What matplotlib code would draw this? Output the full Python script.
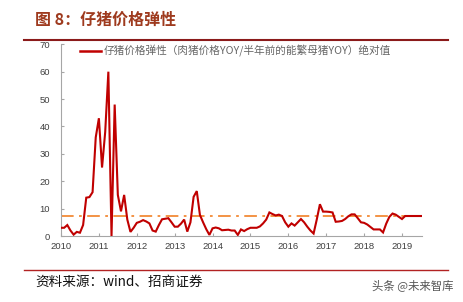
import matplotlib
matplotlib.use("Agg")
import matplotlib.pyplot as plt
import numpy as np
from matplotlib.lines import Line2D

plt.rcParams['font.family'] = ['Liberation Sans', 'Noto Sans CJK SC', 'DejaVu Sans']

# Monthly values, Jan 2010 .. Jul 2019
v2010 = [3, 3, 4, 2, 0.5, 1.5, 1.2, 4, 14, 14.2, 16, 36]
v2011 = [43, 25, 38, 60, 0, 48, 15, 9, 15, 6, 1.5, 3]
v2012 = [4.8, 5.2, 5.8, 5.3, 4.6, 2.0, 1.6, 4.0, 6.1, 6.3, 6.5, 5.0]
v2013 = [3.4, 3.4, 4.5, 6.0, 1.6, 5.0, 14.3, 16.4, 7.7, 5.0, 2.5, 0.4]
v2014 = [2.8, 3.1, 2.8, 2.1, 2.2, 2.3, 2.0, 2.0, 0.4, 2.4, 1.8, 2.5]
v2015 = [3.0, 3.0, 3.0, 3.5, 4.6, 6.0, 8.6, 8.0, 7.5, 7.8, 7.3, 5.0]
v2016 = [3.4, 4.6, 3.8, 5.0, 6.2, 5.0, 3.4, 2.0, 0.9, 6.0, 11.6, 8.9]
v2017 = [8.9, 8.8, 8.6, 5.2, 5.3, 5.5, 6.2, 7.2, 7.9, 7.9, 6.5, 5.0]
v2018 = [4.8, 4.2, 3.3, 2.4, 2.4, 2.4, 1.3, 4.5, 7.0, 8.2, 7.8, 7.0]
v2019 = [6.2, 7.3, 7.3, 7.3, 7.3, 7.3, 7.3]
values = v2010 + v2011 + v2012 + v2013 + v2014 + v2015 + v2016 + v2017 + v2018 + v2019
start_year = 2010
avg_level = 7.3
years = list(range(2010, 2020))
yticks = [0, 10, 20, 30, 40, 50, 60, 70]

legend_label = "仔猪价格弹性（肉猪价格YOY/半年前的能繁母猪YOY）绝对值"
title = "图 8：仔猪价格弹性"
source = "资料来源：wind、招商证券"
watermark = "头条 @未来智库"

x = start_year + np.arange(len(values)) / 12.0

fig = plt.figure(figsize=(4.63, 3.02), dpi=100)
ax = fig.add_axes([61/463, 66/302, (421.7-61)/463, (236-44.3)/302])

ax.plot(x, values, color="#c00000", lw=1.5, solid_joinstyle='miter', zorder=3)
ax.plot([x[0], x[-1]], [avg_level, avg_level], color="#f28a36", lw=1.3,
        linestyle=(0, (7, 3, 1.5, 3)), zorder=2)

ax.set_xlim(2010, 2019.52)
ax.set_ylim(0, 70)
ax.set_xticks(years)
ax.set_xticklabels([str(y) for y in years])
ax.set_yticks(yticks)
for s in ['top', 'right']:
    ax.spines[s].set_visible(False)
for s in ['left', 'bottom']:
    ax.spines[s].set_color("#a6a6a6")
    ax.spines[s].set_linewidth(0.8)
ax.tick_params(axis='both', direction='in', length=2.5, width=0.8, color="#a6a6a6",
               labelsize=6.8, labelcolor="#404040")
ax.tick_params(axis='y', pad=8)
ax.tick_params(axis='x', pad=4)

handle = Line2D([], [], color="#c00000", lw=1.8)
leg = ax.legend([handle], [legend_label], loc='upper left', frameon=False,
                bbox_to_anchor=(0.025, 1.045), handlelength=2.0, handletextpad=0.25,
                prop={'family': ['Noto Sans CJK SC', 'DejaVu Sans'], 'size': 7.7})
for t in leg.get_texts():
    t.set_color("#666666")

fig.text(35/463, 1 - 20/302, title, family=['Noto Sans CJK SC'], fontweight='bold',
         fontsize=11.5, color="#9e3a1e", va='center', ha='left')
fig.add_artist(Line2D([24/463, 448/463], [1 - 39.5/302, 1 - 39.5/302],
                      color="#8b1a1a", lw=1.5))
fig.add_artist(Line2D([24/463, 448/463], [1 - 270/302, 1 - 270/302],
                      color="#b22222", lw=1.0))
fig.text(35/463, 1 - 282/302, source, family=['Noto Sans CJK SC', 'DejaVu Sans'],
         fontsize=9.8, color="#111111", va='center', ha='left')
fig.text(453/463, 1 - 285/302, watermark, family=['Noto Sans CJK SC', 'DejaVu Sans'],
         fontsize=8.2, color="#555555", va='center', ha='right')

fig.savefig("out.png", dpi=100)
